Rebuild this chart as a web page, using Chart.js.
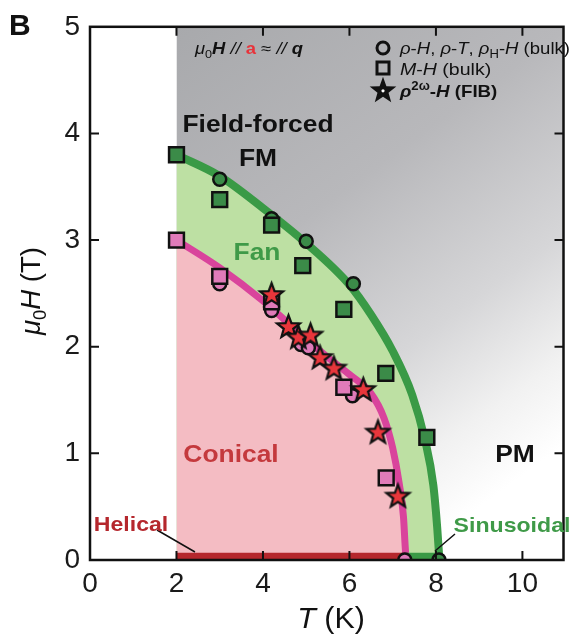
<!DOCTYPE html>
<html>
<head>
<meta charset="utf-8">
<script src="https://cdn.jsdelivr.net/npm/chart.js@4.4.1/dist/chart.umd.min.js"></script>
<style>
  html, body { margin: 0; padding: 0; background: #fff; }
  #wrap { width: 578px; height: 641px; position: relative; }
</style>
</head>
<body>
<div id="wrap"><canvas id="phaseChart" width="578" height="641"></canvas></div>
<script>
// axis ticks
const xTicks = [0, 2, 4, 6, 8, 10];
const yTicks = [0, 1, 2, 3, 4, 5];

// phase boundaries, T (K) vs mu0H (T)
const fanBoundaryT = [2, 3, 4, 5, 6, 6.5, 7, 7.45, 7.75, 7.94, 8.03, 8.08];
const fanBoundaryH = [3.8, 3.6, 3.3, 2.97, 2.58, 2.3, 1.96, 1.55, 1.12, 0.7, 0.3, 0];
const conicalBoundaryT = [2, 3, 4, 5, 5.5, 6, 6.5, 6.8, 7, 7.15, 7.25, 7.29, 7.31];
const conicalBoundaryH = [3.0, 2.74, 2.43, 2.07, 1.9, 1.74, 1.56, 1.33, 1.05, 0.72, 0.4, 0.12, 0];
const fmRegionT = [2, 10.95];
const fmRegionH = [0, 0];
const helicalT = [2, 7.3];
const helicalH = [0.035, 0.035];
const sinusoidalT = [7.3, 8.08];
const sinusoidalH = [0.035, 0.035];

// rho-H, rho-T, rhoH-H (bulk) - circles
const greenCircleT = [3, 4.2, 5.0, 6.09, 8.07];
const greenCircleH = [3.57, 3.2, 2.99, 2.59, 0];
const pinkCircleT = [3, 4.2, 4.88, 5.05, 6.07, 7.28];
const pinkCircleH = [2.59, 2.34, 2.02, 1.99, 1.54, 0];
// M-H (bulk) - squares
const greenSquareT = [2, 3, 4.2, 4.92, 5.87, 6.84, 7.79];
const greenSquareH = [3.8, 3.38, 3.14, 2.76, 2.35, 1.75, 1.15];
const pinkSquareT = [2, 3, 4.2, 5.87, 6.85];
const pinkSquareH = [3.0, 2.66, 2.42, 1.62, 0.77];
// rho2w-H (FIB) - stars
const starT = [4.2, 4.59, 4.82, 5.1, 5.32, 5.64, 6.32, 6.66, 7.12];
const starH = [2.49, 2.19, 2.09, 2.11, 1.9, 1.8, 1.6, 1.2, 0.6];

const FF = '"Liberation Sans", Arial, Helvetica, sans-serif';
const pts = (xs, ys) => xs.map((x, i) => ({ x, y: ys[i] }));

function makeStar(outer, inner, fill, stroke, lw, dot) {
  const size = Math.ceil(2 * outer + 2 * lw + 2);
  const c = document.createElement('canvas');
  c.width = c.height = size;
  const g = c.getContext('2d');
  g.translate(size / 2, size / 2 + outer * 0.06);
  g.beginPath();
  for (let i = 0; i < 10; i++) {
    const r = i % 2 ? inner : outer;
    const a = -Math.PI / 2 + i * Math.PI / 5;
    g.lineTo(r * Math.cos(a), r * Math.sin(a));
  }
  g.closePath();
  g.fillStyle = fill;
  g.fill();
  if (lw > 0) {
    g.lineWidth = lw;
    g.lineJoin = 'miter';
    g.strokeStyle = stroke;
    g.stroke();
  }
  if (dot) {
    g.beginPath();
    g.arc(0, 0, dot, 0, Math.PI * 2);
    g.fillStyle = '#fff';
    g.fill();
  }
  return c;
}

const redStar = makeStar(12, 5, '#e8363b', '#111', 2.2, 0);
const legendStar = makeStar(14, 5.8, '#111', '#111', 0, 1.6);

// draws mixed-style text; sx stretches it horizontally
function drawRich(ctx, x, y, parts, align, sx) {
  sx = sx || 1;
  let total = 0;
  parts.forEach(p => { ctx.font = p[1]; total += ctx.measureText(p[0]).width; });
  const w = total * sx;
  const start = align === 'center' ? x - w / 2 : (align === 'right' ? x - w : x);
  ctx.save();
  ctx.translate(start, y);
  ctx.scale(sx, 1);
  ctx.textAlign = 'left';
  ctx.textBaseline = 'alphabetic';
  let cx = 0;
  parts.forEach(p => {
    ctx.font = p[1];
    ctx.fillStyle = p[2] || '#111';
    ctx.fillText(p[0], cx, p[3] || 0);
    cx += ctx.measureText(p[0]).width;
  });
  ctx.restore();
}

const decorations = {
  id: 'decorations',
  afterDatasetsDraw(chart) {
    const { ctx, chartArea: a, scales: { x, y } } = chart;
    ctx.save();
    // inward ticks
    ctx.strokeStyle = '#111';
    ctx.lineWidth = 2;
    ctx.beginPath();
    xTicks.filter(v => v > 0).forEach(v => {
      const px = x.getPixelForValue(v);
      ctx.moveTo(px, a.bottom); ctx.lineTo(px, a.bottom - 9);
      ctx.moveTo(px, a.top); ctx.lineTo(px, a.top + 9);
    });
    yTicks.filter(v => v > 0 && v < 5).forEach(v => {
      const py = y.getPixelForValue(v);
      ctx.moveTo(a.left, py); ctx.lineTo(a.left + 9, py);
      ctx.moveTo(a.right, py); ctx.lineTo(a.right - 9, py);
    });
    ctx.stroke();
    // frame
    ctx.lineWidth = 2.5;
    ctx.strokeRect(a.left, a.top, a.right - a.left, a.bottom - a.top);

    // leader lines
    ctx.lineWidth = 1.5;
    ctx.beginPath();
    ctx.moveTo(157, 530); ctx.lineTo(195, 552);
    ctx.moveTo(455, 534); ctx.lineTo(435, 551);
    ctx.stroke();

    const B = s => 'bold ' + s + 'px ' + FF;
    const I = s => 'italic ' + s + 'px ' + FF;
    const BI = s => 'italic bold ' + s + 'px ' + FF;
    const R = s => s + 'px ' + FF;

    // region labels (centre x, baseline y)
    drawRich(ctx, 258, 132, [['Field-forced', B(24), '#111']], 'center', 1.1);
    drawRich(ctx, 258, 166, [['FM', B(24), '#111']], 'center', 1.1);
    drawRich(ctx, 257, 260, [['Fan', B(24), '#3f9a48']], 'center', 1.1);
    drawRich(ctx, 231, 462, [['Conical', B(24), '#c4393d']], 'center', 1.1);
    drawRich(ctx, 515, 462, [['PM', B(24), '#111']], 'center', 1.1);
    drawRich(ctx, 131, 531, [['Helical', B(21), '#b5272d']], 'center', 1.1);
    drawRich(ctx, 512, 532, [['Sinusoidal', B(21), '#3f9a48']], 'center', 1.1);

    // field direction note
    drawRich(ctx, 195, 54, [
      ['\u03bc', I(16)], ['0', R(11), '#111', 4], ['H', BI(16)], [' // ', I(16)],
      ['a', B(16), '#e8333a'], [' \u2248 ', R(16)], ['// ', I(16)], ['q', BI(16)]
    ], 'left', 1.15);

    // legend
    ctx.strokeStyle = '#111';
    ctx.lineWidth = 3;
    ctx.beginPath();
    ctx.arc(383, 48, 6, 0, Math.PI * 2);
    ctx.stroke();
    ctx.strokeRect(377, 62, 12, 12);
    ctx.drawImage(legendStar, 383 - legendStar.width / 2, 90 - legendStar.height / 2);
    drawRich(ctx, 400, 54, [
      ['\u03c1', I(17)], ['-', R(17)], ['H', I(17)], [', ', R(17)],
      ['\u03c1', I(17)], ['-', R(17)], ['T', I(17)], [', ', R(17)],
      ['\u03c1', I(17)], ['H', R(12), '#111', 4], ['-', R(17)], ['H', I(17)], [' (bulk)', R(17)]
    ], 'left', 1.09);
    drawRich(ctx, 400, 75, [['M', I(17)], ['-', R(17)], ['H', I(17)], [' (bulk)', R(17)]], 'left', 1.15);
    drawRich(ctx, 400, 97, [
      ['\u03c1', BI(17)], ['2\u03c9', B(12), '#111', -7], ['-', B(17)], ['H', BI(17)], [' (FIB)', B(17)]
    ], 'left', 1.1);

    // panel letter
    drawRich(ctx, 9, 35, [['B', B(30), '#111']], 'left', 1);

    // axis titles
    drawRich(ctx, 331, 628, [['T', I(29)], [' (K)', R(29)]], 'center', 1.05);
    ctx.translate(40, 291);
    ctx.rotate(-Math.PI / 2);
    drawRich(ctx, 0, 0, [['\u03bc', I(27)], ['0', R(18), '#111', 6], ['H', I(27)], [' (T)', R(27)]], 'center', 1.02);
    ctx.restore();
  }
};

function grayFill(context) {
  const chart = context.chart;
  const a = chart.chartArea;
  if (!a) return '#b5b5b8';
  const x0 = chart.scales.x.getPixelForValue(2);
  const g = chart.ctx.createLinearGradient(x0, a.top, a.right, a.bottom);
  g.addColorStop(0, '#a8a9ac');
  g.addColorStop(0.35, '#b8b8bb');
  g.addColorStop(0.6, '#d6d6d8');
  g.addColorStop(0.75, '#f1f1f1');
  g.addColorStop(0.86, '#ffffff');
  return g;
}

const markerBase = { showLine: false, borderColor: '#111', borderWidth: 2.5, clip: 0 };

new Chart(document.getElementById('phaseChart'), {
  type: 'line',
  data: {
    datasets: [
      Object.assign({ label: 'stars', data: pts(starT, starH), pointStyle: redStar, pointRadius: 12 }, markerBase),
      Object.assign({ label: 'pink squares', data: pts(pinkSquareT, pinkSquareH), pointStyle: 'rect', pointRadius: 10.5, backgroundColor: '#e07bb9' }, markerBase),
      Object.assign({ label: 'green squares', data: pts(greenSquareT, greenSquareH), pointStyle: 'rect', pointRadius: 10.5, backgroundColor: '#3b8b48' }, markerBase),
      Object.assign({ label: 'pink circles', data: pts(pinkCircleT, pinkCircleH), pointStyle: 'circle', pointRadius: 6.5, backgroundColor: '#e07bb9' }, markerBase),
      Object.assign({ label: 'green circles', data: pts(greenCircleT, greenCircleH), pointStyle: 'circle', pointRadius: 6.5, backgroundColor: '#3b8b48' }, markerBase),
      { label: 'helical', data: pts(helicalT, helicalH), borderColor: '#b5272d', borderWidth: 7, pointRadius: 0, fill: false, clip: 0, borderCapStyle: 'butt' },
      { label: 'sinusoidal', data: pts(sinusoidalT, sinusoidalH), borderColor: '#3a9a46', borderWidth: 7, pointRadius: 0, fill: false, clip: 0, borderCapStyle: 'butt' },
      { label: 'conical boundary', data: pts(conicalBoundaryT, conicalBoundaryH), borderColor: '#d9449c', borderWidth: 7, backgroundColor: '#f4bcc3', fill: 'origin', pointRadius: 0, cubicInterpolationMode: 'monotone', clip: 0 },
      { label: 'fan boundary', data: pts(fanBoundaryT, fanBoundaryH), borderColor: '#3a9a46', borderWidth: 8, backgroundColor: '#bde0a3', fill: 'origin', pointRadius: 0, cubicInterpolationMode: 'monotone', clip: 0 },
      { label: 'field-forced FM', data: pts(fmRegionT, fmRegionH), borderWidth: 0, borderColor: 'rgba(0,0,0,0)', backgroundColor: grayFill, fill: 'end', pointRadius: 0, clip: 0 }
    ]
  },
  options: {
    responsive: false,
    animation: false,
    layout: { padding: { top: 25, right: 3, left: 0, bottom: 0 } },
    plugins: {
      legend: { display: false },
      tooltip: { enabled: false }
    },
    scales: {
      x: {
        type: 'linear',
        min: 0,
        max: 10.95,
        afterFit(s) { s.height = 81; },
        afterBuildTicks(s) { s.ticks = xTicks.map(v => ({ value: v })); },
        ticks: { font: { family: FF, size: 28 }, color: '#1a1a1a', padding: 7, includeBounds: false },
        grid: { display: false, drawTicks: false },
        border: { display: false }
      },
      y: {
        min: 0,
        max: 5,
        afterFit(s) { s.width = 90; },
        afterBuildTicks(s) { s.ticks = yTicks.map(v => ({ value: v })); },
        ticks: { font: { family: FF, size: 28 }, color: '#1a1a1a', padding: 10 },
        grid: { display: false, drawTicks: false },
        border: { display: false }
      }
    }
  },
  plugins: [decorations]
});
</script>
</body>
</html>
